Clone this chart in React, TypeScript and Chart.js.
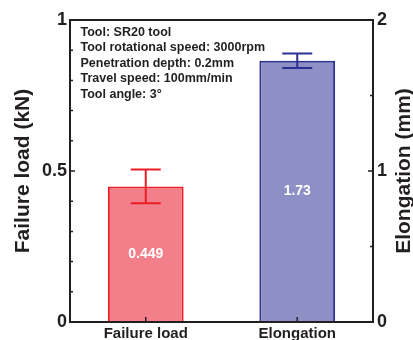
import React, { useEffect, useRef } from "react";
import { Chart, registerables } from "chart.js";

Chart.register(...registerables);

const categories = ["Failure load", "Elongation"];
const failureLoad = [0.449, null];
const failureLoadErr = [0.056, null];
const elongation = [null, 1.73];
const elongationErr = [null, 0.048];
const leftTickValues = [0, 0.5, 1];
const rightTickValues = [0, 1, 2];
const leftMinorTicks = [0.1, 0.2, 0.3, 0.4, 0.6, 0.7, 0.8, 0.9];
const rightMinorTicks = [0.5, 1.5];
const infoLines = [
  "Tool: SR20 tool",
  "Tool rotational speed: 3000rpm",
  "Penetration depth: 0.2mm",
  "Travel speed: 100mm/min",
  "Tool angle: 3°",
];
const leftTitle = "Failure load (kN)";
const rightTitle = "Elongation (mm)";

const FONT = '"Liberation Sans", Arial, Helvetica, sans-serif';
const INK = "#231F20";

const decorPlugin = {
  id: "decor",
  afterDatasetsDraw(chart: any) {
    const ctx = chart.ctx;
    const { left, right, top, bottom } = chart.chartArea;
    // error bars + value labels
    chart.data.datasets.forEach((ds: any, di: number) => {
      const meta = chart.getDatasetMeta(di);
      const scale = chart.scales[ds.yAxisID];
      ds.data.forEach((v: any, i: number) => {
        const e = ds.errors[i];
        if (v == null) return;
        const el = meta.data[i];
        const x = el.x;
        if (e != null) {
          const yT = scale.getPixelForValue(v + e);
          const yB = scale.getPixelForValue(v - e);
          ctx.save();
          ctx.strokeStyle = ds.borderColor;
          ctx.lineWidth = 2;
          ctx.beginPath();
          ctx.moveTo(x, yT);
          ctx.lineTo(x, yB);
          ctx.moveTo(x - 15, yT);
          ctx.lineTo(x + 15, yT);
          ctx.moveTo(x - 15, yB);
          ctx.lineTo(x + 15, yB);
          ctx.stroke();
          ctx.restore();
        }
        ctx.save();
        ctx.fillStyle = "#ffffff";
        ctx.font = `bold 14px ${FONT}`;
        ctx.textAlign = "center";
        ctx.textBaseline = "middle";
        ctx.fillText(String(v), x, (el.y + el.base) / 2);
        ctx.restore();
      });
    });

    // frame
    ctx.save();
    ctx.strokeStyle = INK;
    ctx.lineWidth = 2;
    ctx.strokeRect(left, top, right - left, bottom - top);

    // ticks (inward)
    ctx.lineWidth = 1.5;
    ctx.beginPath();
    const yL = chart.scales.y;
    leftTickValues.forEach((v) => {
      const p = yL.getPixelForValue(v);
      ctx.moveTo(left, p);
      ctx.lineTo(left + 5, p);
    });
    leftMinorTicks.forEach((v) => {
      const p = yL.getPixelForValue(v);
      ctx.moveTo(left, p);
      ctx.lineTo(left + 3, p);
    });
    const yR = chart.scales.y1;
    rightTickValues.forEach((v) => {
      const p = yR.getPixelForValue(v);
      ctx.moveTo(right, p);
      ctx.lineTo(right - 5, p);
    });
    rightMinorTicks.forEach((v) => {
      const p = yR.getPixelForValue(v);
      ctx.moveTo(right, p);
      ctx.lineTo(right - 3, p);
    });
    const xs = chart.scales.x;
    categories.forEach((_, i) => {
      const p = xs.getPixelForValue(i);
      ctx.moveTo(p, bottom);
      ctx.lineTo(p, bottom - 5);
    });
    ctx.stroke();
    ctx.restore();
  },
  afterDraw(chart: any) {
    const ctx = chart.ctx;
    const { left, right, top, bottom } = chart.chartArea;
    const midY = (top + bottom) / 2;
    ctx.save();
    ctx.fillStyle = INK;
    // info text
    ctx.font = `bold 12.5px ${FONT}`;
    ctx.textAlign = "left";
    ctx.textBaseline = "middle";
    infoLines.forEach((t, i) => {
      ctx.fillText(t, left + 10.5, top + 12.5 + i * 15.5);
    });
    // axis titles
    ctx.font = `bold 21px ${FONT}`;
    ctx.textAlign = "center";
    ctx.textBaseline = "middle";
    ctx.save();
    ctx.translate(23, midY);
    ctx.rotate(-Math.PI / 2);
    ctx.fillText(leftTitle, 0, 0);
    ctx.restore();
    ctx.save();
    ctx.translate(right + 31, midY);
    ctx.rotate(-Math.PI / 2);
    ctx.fillText(rightTitle, 0, 0);
    ctx.restore();
    ctx.restore();
  },
};

export default function App() {
  const ref = useRef<HTMLCanvasElement | null>(null);
  useEffect(() => {
    if (!ref.current) return;
    const chart = new Chart(ref.current, {
      type: "bar",
      data: {
        labels: categories,
        datasets: [
          {
            label: "Failure load",
            data: failureLoad,
            errors: failureLoadErr,
            yAxisID: "y",
            backgroundColor: "#F27F89",
            borderColor: "#EE1C25",
            borderWidth: 2,
            grouped: false,
            categoryPercentage: 0.5,
            barPercentage: 1,
          } as any,
          {
            label: "Elongation",
            data: elongation,
            errors: elongationErr,
            yAxisID: "y1",
            backgroundColor: "#8E8FC4",
            borderColor: "#2B3192",
            borderWidth: 2,
            grouped: false,
            categoryPercentage: 0.5,
            barPercentage: 1,
          } as any,
        ],
      },
      options: {
        animation: false,
        responsive: false,
        layout: { padding: { top: 20, left: 0, right: 0, bottom: 0 }, autoPadding: false } as any,
        plugins: { legend: { display: false }, tooltip: { enabled: false } },
        scales: {
          x: {
            grid: { display: false, drawTicks: false },
            border: { display: false },
            ticks: { font: { family: FONT, size: 15, weight: "bold" }, color: INK, padding: 3 },
            afterFit: (s: any) => {
              s.height = 18;
            },
          },
          y: {
            position: "left",
            min: 0,
            max: 1,
            grid: { display: false, drawTicks: false },
            border: { display: false },
            afterBuildTicks: (s: any) => {
              s.ticks = leftTickValues.map((v) => ({ value: v }));
            },
            ticks: {
              font: { family: FONT, size: 18, weight: "bold" },
              color: INK,
              padding: 3,
              callback: (v: any) => String(v),
            },
            afterFit: (s: any) => {
              s.width = 70;
            },
          },
          y1: {
            position: "right",
            min: 0,
            max: 2,
            grid: { display: false, drawTicks: false },
            border: { display: false },
            afterBuildTicks: (s: any) => {
              s.ticks = rightTickValues.map((v) => ({ value: v }));
            },
            ticks: {
              font: { family: FONT, size: 18, weight: "bold" },
              color: INK,
              padding: 4,
              callback: (v: any) => String(v),
            },
            afterFit: (s: any) => {
              s.width = 40;
            },
          },
        },
      } as any,
      plugins: [decorPlugin],
    });
    return () => chart.destroy();
  }, []);
  return (
    <div style={{ position: "fixed", left: 0, top: 0, width: 413, height: 340, background: "#fff" }}>
      <canvas ref={ref} width={413} height={340} style={{ width: 413, height: 340, display: "block" }} />
    </div>
  );
}
